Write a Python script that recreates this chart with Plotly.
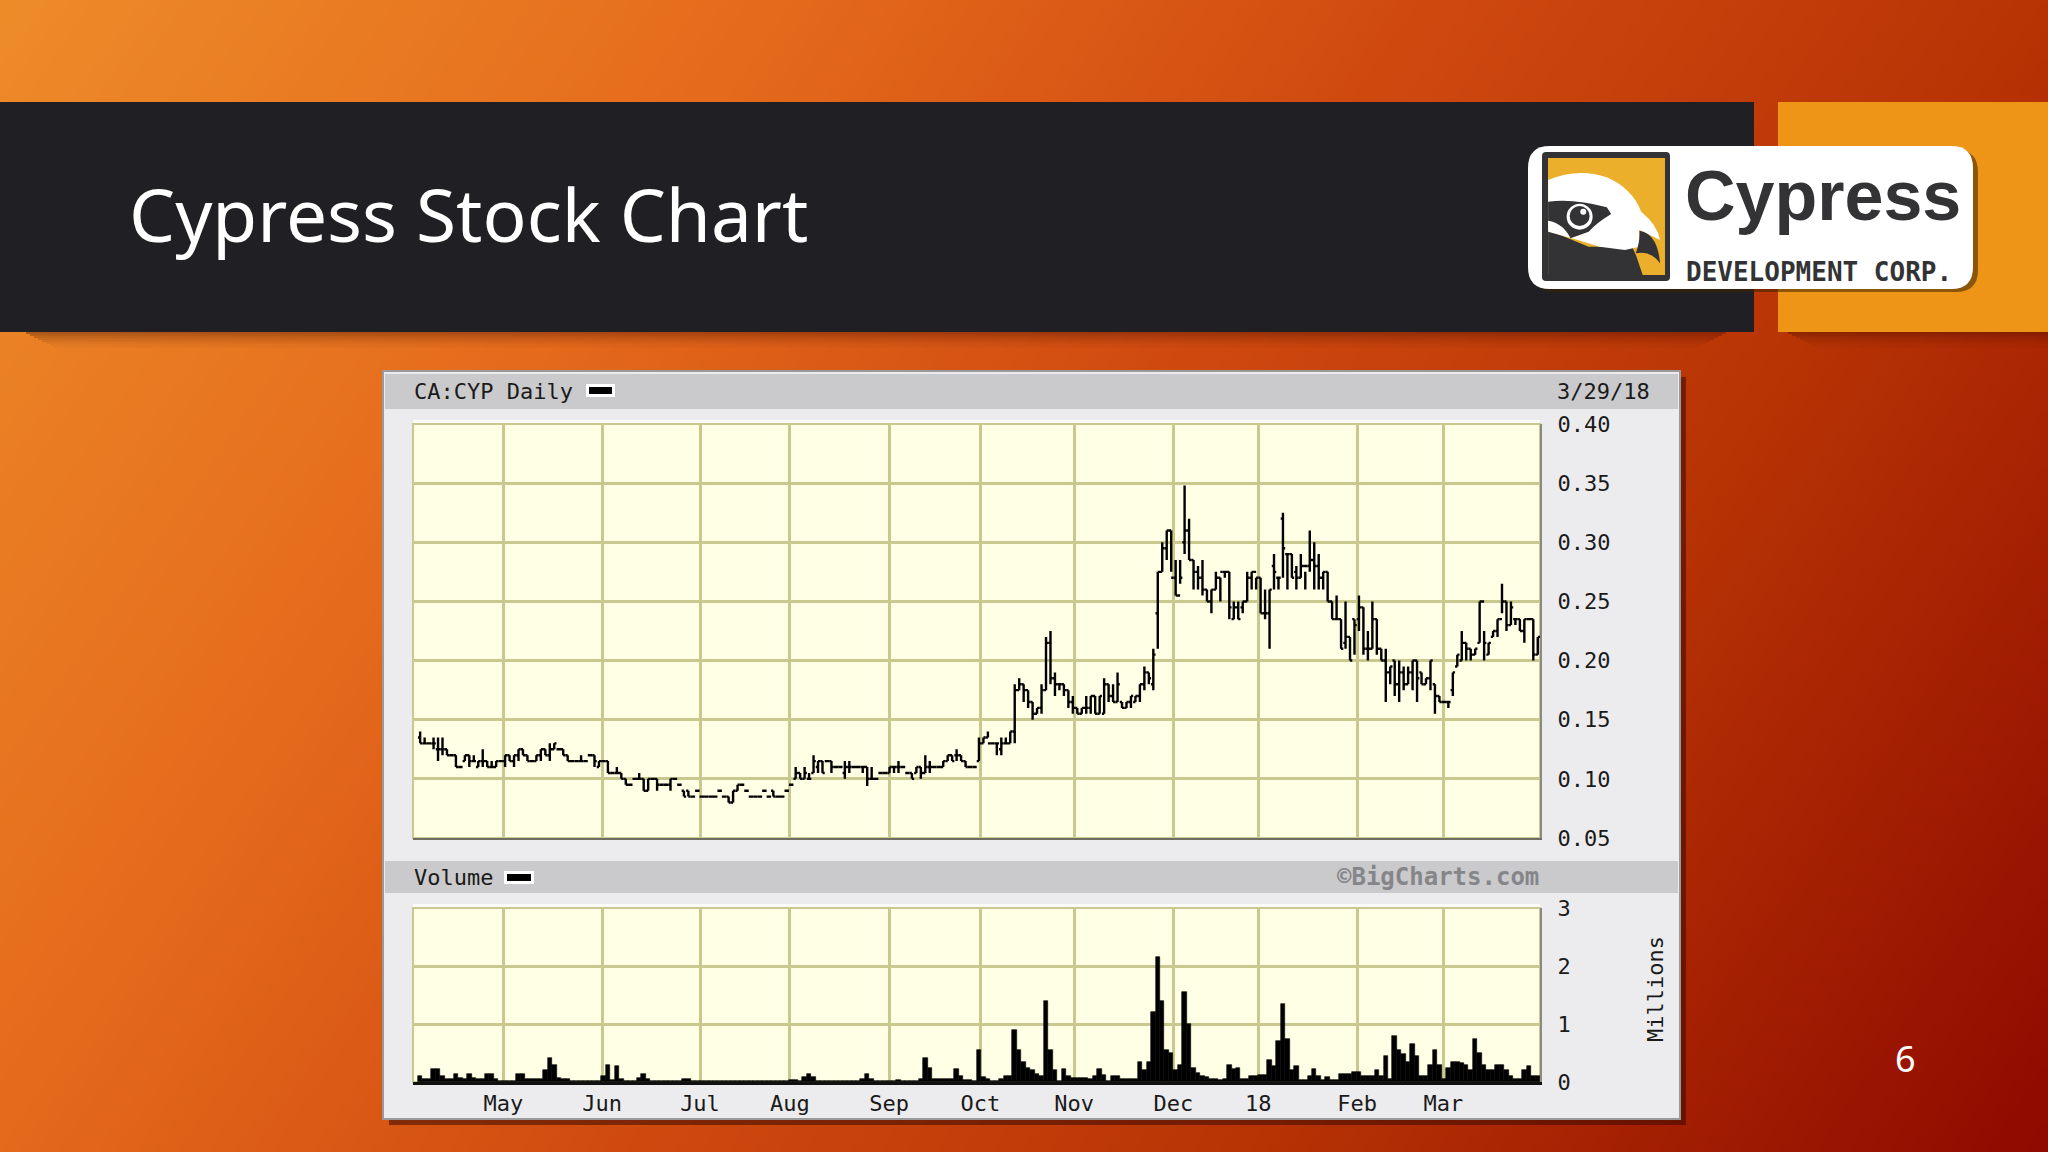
import base64, struct, zlib
import numpy as np
import plotly.graph_objects as go

W, H = 2048, 1152

TITLE = "Cypress Stock Chart"
month_days = [18.6, 40.7, 62.6, 82.7, 104.9, 125.3, 146.3, 168.5, 187.5, 209.6, 228.9]
month_labels = ["May", "Jun", "Jul", "Aug", "Sep", "Oct", "Nov", "Dec", "18", "Feb", "Mar"]
price_ticks = [0.05, 0.10, 0.15, 0.20, 0.25, 0.30, 0.35, 0.40]
volume_ticks = [0, 1, 2, 3]

price_high = [
 .14,.135,.13,.135,.135,.135,.125,.12,.12,.11,
 .12,.12,.12,.115,.125,.115,.115,.115,.115,.12,
 .12,.12,.125,.125,.12,.115,.12,.125,.125,.13,
 .13,.125,.125,.12,.115,.115,.12,.115,.12,.12,
 .115,.115,.115,.105,.11,.105,.10,.095,.10,.105,
 .10,.10,.10,.10,.095,.095,.10,.10,.095,.09,
 .09,.085,.09,.085,.085,.085,.085,.09,.085,.085,
 .09,.095,.095,.09,.085,.085,.085,.09,.085,.09,
 .085,.085,.09,.095,.11,.105,.11,.105,.12,.115,
 .115,.115,.115,.11,.11,.115,.115,.11,.11,.11,
 .11,.11,.10,.105,.105,.11,.11,.115,.11,.105,
 .105,.11,.11,.12,.115,.11,.11,.115,.12,.12,
 .125,.12,.115,.11,.11,.135,.135,.14,.13,.13,
 .135,.135,.14,.18,.185,.18,.175,.165,.16,.18,
 .22,.225,.19,.18,.18,.175,.17,.16,.16,.17,
 .17,.17,.17,.185,.18,.18,.19,.165,.165,.17,
 .17,.18,.195,.19,.21,.275,.30,.31,.31,.285,
 .285,.348,.32,.285,.28,.285,.26,.26,.275,.27,
 .275,.275,.25,.25,.25,.275,.275,.27,.27,.26,
 .26,.29,.27,.325,.29,.29,.28,.29,.275,.31,
 .30,.29,.275,.275,.25,.255,.235,.25,.22,.235,
 .255,.245,.225,.25,.235,.21,.21,.195,.20,.20,
 .195,.195,.20,.20,.19,.185,.20,.18,.17,.165,
 .165,.19,.205,.225,.215,.21,.21,.25,.225,.215,
 .225,.235,.265,.25,.25,.235,.235,.235,.235,.235,.22]
price_low = [
 .13,.13,.13,.125,.115,.12,.12,.12,.11,.11,
 .115,.11,.115,.11,.11,.11,.11,.11,.115,.11,
 .115,.11,.115,.12,.115,.115,.115,.115,.12,.115,
 .125,.125,.12,.115,.115,.115,.115,.115,.12,.11,
 .11,.115,.105,.105,.105,.10,.095,.095,.10,.10,
 .09,.09,.10,.09,.095,.095,.09,.10,.095,.085,
 .085,.085,.09,.085,.085,.085,.085,.09,.085,.08,
 .08,.09,.095,.09,.085,.085,.085,.09,.085,.085,
 .085,.085,.09,.095,.10,.10,.10,.10,.105,.105,
 .105,.115,.105,.11,.11,.10,.105,.11,.11,.105,
 .094,.10,.10,.105,.105,.105,.105,.105,.11,.105,
 .10,.105,.10,.105,.105,.11,.11,.11,.115,.115,
 .115,.115,.11,.11,.11,.115,.13,.135,.13,.12,
 .12,.13,.13,.13,.175,.165,.16,.15,.155,.155,
 .175,.18,.17,.175,.17,.16,.155,.155,.155,.155,
 .155,.155,.155,.155,.165,.165,.165,.16,.16,.16,
 .165,.165,.175,.18,.175,.21,.275,.285,.275,.255,
 .265,.29,.285,.26,.26,.255,.25,.24,.26,.25,
 .27,.235,.235,.235,.24,.25,.26,.26,.24,.235,
 .21,.26,.26,.27,.26,.27,.26,.27,.26,.275,
 .26,.26,.26,.25,.235,.235,.21,.21,.20,.205,
 .225,.205,.20,.21,.205,.20,.165,.18,.17,.165,
 .175,.18,.175,.165,.18,.18,.175,.155,.165,.165,
 .16,.17,.195,.20,.20,.20,.205,.215,.20,.205,
 .22,.22,.24,.225,.23,.23,.225,.215,.235,.20,.205]
price_open = [
 .135,.13,.13,.13,.125,.125,.125,.12,.12,.11,
 .115,.12,.115,.11,.115,.115,.11,.11,.115,.115,
 .12,.115,.12,.125,.12,.115,.115,.12,.125,.12,
 .125,.125,.125,.12,.115,.115,.115,.115,.12,.12,
 .11,.115,.115,.105,.105,.105,.10,.095,.10,.10,
 .10,.09,.10,.10,.095,.095,.095,.10,.095,.09,
 .09,.085,.09,.085,.085,.085,.085,.09,.085,.085,
 .08,.09,.095,.09,.085,.085,.085,.09,.085,.09,
 .085,.085,.09,.095,.10,.105,.10,.10,.105,.11,
 .115,.115,.115,.11,.11,.105,.11,.11,.11,.11,
 .11,.10,.10,.105,.105,.105,.11,.11,.11,.105,
 .105,.105,.11,.105,.11,.11,.11,.11,.115,.12,
 .12,.12,.115,.11,.11,.115,.13,.135,.13,.13,
 .125,.13,.13,.14,.175,.18,.175,.165,.155,.16,
 .175,.215,.185,.18,.18,.175,.165,.16,.155,.16,
 .16,.17,.155,.155,.18,.17,.165,.165,.16,.165,
 .165,.17,.18,.19,.18,.24,.275,.295,.31,.27,
 .255,.30,.31,.285,.275,.27,.26,.25,.26,.27,
 .275,.275,.235,.245,.245,.25,.27,.275,.27,.24,
 .24,.28,.27,.32,.29,.29,.275,.27,.28,.28,
 .285,.28,.27,.275,.25,.235,.235,.215,.22,.235,
 .235,.245,.21,.21,.235,.21,.20,.19,.20,.18,
 .19,.18,.19,.20,.19,.18,.185,.18,.17,.165,
 .165,.175,.195,.20,.215,.21,.205,.215,.25,.205,
 .22,.225,.235,.25,.23,.235,.235,.225,.235,.235,.205]
price_close = [
 .13,.13,.13,.13,.125,.125,.12,.12,.11,.11,
 .12,.115,.115,.115,.115,.11,.11,.115,.115,.12,
 .115,.12,.125,.12,.115,.115,.12,.125,.12,.125,
 .13,.125,.12,.115,.115,.115,.115,.115,.12,.115,
 .115,.115,.105,.105,.105,.10,.095,.095,.10,.10,
 .09,.10,.10,.095,.095,.095,.10,.10,.095,.085,
 .085,.085,.09,.085,.085,.085,.085,.09,.085,.08,
 .09,.095,.095,.09,.085,.085,.085,.09,.085,.085,
 .085,.085,.09,.095,.105,.10,.105,.10,.115,.115,
 .105,.115,.11,.11,.11,.11,.11,.11,.11,.11,
 .10,.10,.10,.105,.105,.11,.11,.11,.11,.105,
 .10,.11,.105,.11,.11,.11,.11,.115,.12,.115,
 .12,.115,.11,.11,.11,.13,.135,.13,.13,.13,
 .13,.13,.14,.175,.18,.175,.165,.155,.16,.175,
 .215,.185,.18,.18,.175,.165,.16,.155,.16,.16,
 .17,.155,.17,.18,.17,.165,.18,.16,.165,.17,
 .17,.18,.19,.185,.205,.275,.295,.31,.27,.255,
 .27,.31,.285,.275,.27,.26,.25,.26,.27,.275,
 .275,.245,.245,.235,.25,.27,.275,.27,.24,.24,
 .26,.275,.27,.295,.29,.27,.27,.28,.28,.285,
 .28,.27,.275,.25,.235,.235,.21,.22,.20,.23,
 .245,.21,.21,.235,.21,.20,.19,.195,.18,.19,
 .18,.19,.20,.185,.18,.185,.20,.17,.165,.165,
 .165,.19,.205,.215,.21,.205,.21,.25,.215,.215,
 .225,.235,.25,.23,.245,.235,.225,.235,.235,.205,.22]
volume_millions = [
 .1,.05,.05,.23,.23,.1,.05,.05,.13,.07,
 .05,.13,.07,.05,.05,.13,.13,.05,.02,.02,
 .02,.02,.13,.13,.05,.05,.05,.05,.2,.42,
 .3,.07,.05,.05,.02,.01,.01,.01,.01,.01,
 .01,.1,.3,.03,.27,.05,.01,.01,.01,.07,
 .14,.05,.01,.01,.01,.01,.01,.01,.01,.05,
 .05,.01,.01,.01,.01,.01,.01,.01,.01,.01,
 .01,.01,.01,.01,.01,.01,.01,.01,.01,.01,
 .01,.01,.01,.04,.04,.01,.08,.14,.08,.01,
 .01,.01,.01,.01,.01,.01,.01,.01,.01,.06,
 .14,.06,.01,.01,.01,.01,.01,.03,.01,.01,
 .01,.01,.05,.42,.25,.05,.05,.05,.05,.05,
 .22,.1,.03,.03,.02,.55,.08,.05,.02,.02,
 .06,.1,.1,.9,.55,.35,.25,.2,.13,.1,
 1.4,.55,.2,.02,.23,.1,.07,.07,.07,.07,
 .05,.1,.23,.12,.02,.1,.1,.05,.05,.05,
 .05,.35,.2,.35,1.2,2.15,1.4,.55,.5,.2,
 .3,1.55,1.0,.25,.15,.1,.08,.05,.05,.03,
 .05,.3,.22,.25,.05,.05,.1,.1,.12,.12,
 .38,.28,.7,1.35,.75,.2,.28,.03,.03,.1,
 .22,.1,.03,.08,.03,.03,.13,.13,.13,.17,
 .17,.1,.1,.1,.2,.1,.45,.05,.8,.55,
 .48,.35,.65,.45,.1,.1,.3,.55,.3,.05,
 .25,.35,.35,.33,.3,.2,.75,.5,.3,.2,
 .2,.3,.3,.2,.1,.05,.05,.2,.27,.1,.1]
trading_day = list(range(len(price_close)))


def gradient_png():
    h, w = 288, 512
    yy, xx = np.mgrid[0:h, 0:w]
    t = (xx / (w - 1)) * 0.72 + (yy / (h - 1)) * 0.28
    stops = [0, .28, .5, .72, 1]
    rgb = [np.interp(t, stops, c) for c in ([238, 229, 208, 184, 143], [140, 106, 74, 52, 10], [42, 28, 16, 5, 0])]
    arr = np.stack(rgb, axis=2).astype(np.uint8)
    raw = b"".join(b"\x00" + arr[i].tobytes() for i in range(h))
    def chunk(tag, data):
        c = struct.pack(">I", len(data)) + tag + data
        return c + struct.pack(">I", zlib.crc32(tag + data) & 0xffffffff)
    png = b"\x89PNG\r\n\x1a\n" + chunk(b"IHDR", struct.pack(">IIBBBBB", w, h, 8, 2, 0, 0, 0)) + chunk(b"IDAT", zlib.compress(raw)) + chunk(b"IEND", b"")
    return "data:image/png;base64," + base64.b64encode(png).decode()


def px(x, y):
    return x / W, 1 - y / H


shapes = []


def rect(x0, y0, x1, y1, fill, line=None, lw=0, opacity=1):
    a, b = px(x0, y0)
    c, d = px(x1, y1)
    shapes.append(dict(type="rect", xref="paper", yref="paper", x0=a, y0=b, x1=c, y1=d, fillcolor=fill, opacity=opacity,
                       line=dict(color=line or fill, width=lw), layer="below"))


def path(points, fill, close=True):
    s = ""
    for p in points:
        if len(p) == 2:
            a, b = px(*p)
            s += ("M" if not s else "L") + f"{a:.5f},{b:.5f}"
        else:
            a, b = px(p[0], p[1]); c, d = px(p[2], p[3])
            s += f"Q{a:.5f},{b:.5f} {c:.5f},{d:.5f}"
    shapes.append(dict(type="path", xref="paper", yref="paper", path=s + ("Z" if close else ""), fillcolor=fill,
                       line=dict(width=0), layer="below"))


def round_rect(x0, y0, x1, y1, r, fill):
    path([(x0 + r, y0), (x1 - r, y0), (x1, y0, x1, y0 + r), (x1, y1 - r), (x1, y1, x1 - r, y1), (x0 + r, y1),
          (x0, y1, x0, y1 - r), (x0, y0 + r), (x0, y0, x0 + r, y0)], fill)


def circle(cx, cy, r, fill):
    a, b = px(cx - r, cy - r)
    c, d = px(cx + r, cy + r)
    shapes.append(dict(type="circle", xref="paper", yref="paper", x0=a, y0=b, x1=c, y1=d, fillcolor=fill, line=dict(width=0), layer="below"))


def z(x, y):  # logo drawing grid -> page
    return 1480 + x / 2.76, 90 + y / 3


# banner with soft shadows
for i, a in enumerate([.34, .28, .22, .17, .12, .08, .05, .03]):
    rect(26 + i * 4, 332 + i * 2, 1726 - i * 4, 334 + i * 2, "#3a0a00", opacity=a)
    rect(1788 + i * 4, 332 + i * 2, 2048, 334 + i * 2, "#3a0a00", opacity=a)
rect(0, 102, 1754, 332, "#202024")
rect(1778, 102, 2048, 332, "#EE9518")

# logo
round_rect(1532, 150, 1978, 292, 22, "rgba(60,35,0,0.55)")
round_rect(1528, 146, 1973, 289, 22, "#FFFFFF")
round_rect(1542, 152, 1670, 281, 4, "#333336")
rect(1548, 158, 1665, 275, "#EBAF2B")
path([z(*p) if len(p) == 2 else (*z(p[0], p[1]), *z(p[2], p[3])) for p in
      [(188, 400), (188, 558), (450, 558), (432, 500), (420, 470), (300, 470), (188, 420)]], "#333336")
path([z(*p) if len(p) == 2 else (*z(p[0], p[1]), *z(p[2], p[3])) for p in
      [(188, 270), (270, 232, 350, 262), (420, 295, 445, 365), (490, 405, 497, 450), (440, 420), (440, 470), (400, 480), (330, 470), (270, 450), (188, 425)]], "#FFFFFF")
path([z(*p) if len(p) == 2 else (*z(p[0], p[1]), *z(p[2], p[3])) for p in
      [(188, 335), (260, 325, 350, 352), (362, 372), (320, 400, 300, 425), (250, 445), (230, 400, 188, 392)]], "#333336")
path([z(*p) if len(p) == 2 else (*z(p[0], p[1]), *z(p[2], p[3])) for p in
      [(440, 422), (490, 430, 497, 520), (470, 480, 430, 490), (442, 455, 440, 422)]], "#333336")
circle(*z(275, 380), 13, "#FFFFFF")
circle(*z(275, 378), 10, "#333336")
circle(*z(285, 365), 3, "#FFFFFF")

# chart panel
rect(389, 377, 1686, 1125, "#3a0a00", opacity=.55)
rect(383, 371, 1680, 1119, "#ECECEE", line="#9a9a9a", lw=2)
rect(385, 374, 1678, 409, "#CACACC")
rect(385, 861, 1678, 893, "#CACACC")
rect(413, 420, 1540, 424, "#FAFAF8")
rect(413, 904, 1540, 908, "#FAFAF8")
rect(413, 424, 1540, 838, "#FFFFE6", line="#C9C98F", lw=2)
rect(413, 908, 1540, 1082, "#FFFFE6", line="#C9C98F", lw=2)
rect(586, 384, 615, 397, "#FFFFFF")
rect(589, 387, 612, 394, "#000000")
rect(504, 871, 534, 884, "#FFFFFF")
rect(507, 874, 531, 881, "#000000")

fig = go.Figure()
fig.add_trace(go.Ohlc(x=trading_day, open=price_open, high=price_high, low=price_low, close=price_close,
                      increasing_line_color="#000000", decreasing_line_color="#000000", line_width=2.4,
                      tickwidth=0.5, hoverinfo="skip", xaxis="x", yaxis="y", showlegend=False))
fig.add_trace(go.Bar(x=trading_day, y=volume_millions, marker=dict(color="#000000", line=dict(width=0.6, color="#000000")),
                     hoverinfo="skip", xaxis="x2", yaxis="y2", showlegend=False))

MONO = "DejaVu Sans Mono"
tick_font = dict(family=MONO, size=22, color="#1a1a1a")
GRID = "#C9C98F"
xcommon = dict(domain=[413 / W, 1540 / W], range=[-1.6, 250.5], tickmode="array", tickvals=month_days, ticktext=month_labels,
               showgrid=True, gridcolor=GRID, gridwidth=2.5, ticks="", zeroline=False, showline=True,
               rangeslider=dict(visible=False), tickfont=tick_font, automargin=False)
ycommon = dict(side="right", showgrid=True, gridcolor=GRID, gridwidth=2.5, ticks="", zeroline=False, showline=True,
               linecolor="#8a8a80", linewidth=2, tickfont=tick_font, tickmode="array", ticklabelstandoff=11, automargin=False)


def text(x, y, s, anchor="left", **kw):
    a, b = px(x, y)
    f = dict(family=MONO, size=22, color="#1a1a1a")
    f.update(kw.pop("font", {}))
    return dict(xref="paper", yref="paper", x=a, y=b, text=s, showarrow=False, xanchor=anchor, yanchor="middle", font=f, **kw)


annotations = [
    text(127, 214, TITLE, font=dict(family="Noto Sans", size=73, color="#FFFFFF")),
    text(1683, 196, "Cypress", font=dict(family="Liberation Sans", size=70, color="#333336", weight="bold")),
    text(1684, 272, "DEVELOPMENT CORP.", font=dict(size=26, color="#333336", weight="bold")),
    text(412, 391, "CA:CYP Daily"),
    text(1652, 391, "3/29/18", anchor="right"),
    text(412, 877, "Volume"),
    text(1541, 877, "©BigCharts.com", anchor="right", font=dict(size=24, color="#85858a", weight="bold")),
    text(1655, 989, "Millions", anchor="center", textangle=-90),
    text(1905, 1058, "6", anchor="center", font=dict(family="Noto Sans", size=36, color="#FFFFFF")),
]

fig.update_layout(
    width=W, height=H, margin=dict(l=0, r=0, t=0, b=0), showlegend=False, bargap=0,
    paper_bgcolor="rgba(0,0,0,0)", plot_bgcolor="rgba(0,0,0,0)",
    images=[dict(source=gradient_png(), xref="paper", yref="paper", x=0, y=1, sizex=1, sizey=1,
                 sizing="stretch", xanchor="left", yanchor="top", layer="below")],
    shapes=shapes, annotations=annotations,
    xaxis=dict(anchor="y", showticklabels=False, linecolor="#6e6e62", linewidth=2, **xcommon),
    xaxis2=dict(anchor="y2", showticklabels=True, linecolor="#111111", linewidth=3, **xcommon),
    yaxis=dict(anchor="x", domain=[1 - 838 / H, 1 - 424 / H], range=[0.05, 0.40], tickvals=price_ticks,
               ticktext=[f"{v:.2f}" for v in price_ticks], **ycommon),
    yaxis2=dict(anchor="x2", domain=[1 - 1082 / H, 1 - 908 / H], range=[0, 3], tickvals=volume_ticks,
                ticktext=[str(v) for v in volume_ticks], **ycommon),
)
fig.write_html("out.html", config=dict(displayModeBar=False), post_script="document.body.style.margin='0';")
